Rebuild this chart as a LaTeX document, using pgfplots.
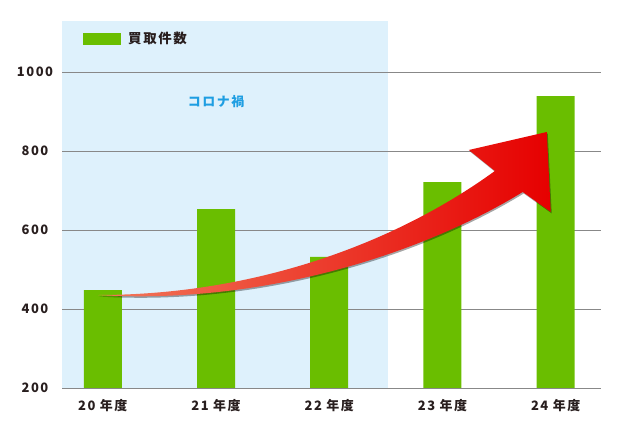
\documentclass[border=0pt]{standalone}
\usepackage{fontspec}
\setmainfont{Noto Sans CJK JP}[LetterSpace=12]
\usepackage{pgfplots}
\pgfplotsset{compat=1.18}
\definecolor{barg}{RGB}{106,190,0}
\definecolor{bgblue}{RGB}{222,241,252}
\definecolor{txtblue}{RGB}{30,158,226}
\definecolor{gridgray}{RGB}{136,136,136}
\definecolor{lab}{RGB}{40,30,30}
\definecolor{arrL}{RGB}{242,120,90}
\definecolor{arrR}{RGB}{230,0,0}
\begin{document}
\begin{tikzpicture}
\begin{axis}[
  set layers,
  scale only axis,
  width=539bp, height=367bp,
  at={(0,0)}, anchor=south west,
  xmin=-0.36, xmax=4.4,
  ymin=200, ymax=1129,
  ytick={200,400,600,800,1000},
  xtick={0,1,2,3,4},
  xticklabels={20 年度,21 年度,22 年度,23 年度,24 年度},
  ymajorgrids,
  grid style={gridgray, line width=0.9pt},
  axis line style={draw=none},
  major tick length=0pt,
  tick label style={font=\bfseries\fontsize{13}{15}\selectfont, text=lab},
  /pgf/number format/assume math mode=true,
  /pgf/number format/1000 sep={},
  yticklabel style={anchor=center, xshift=-27bp},
  xticklabel style={anchor=center, yshift=-18bp},
  legend style={at={(axis description cs:0.039,0.975)}, anchor=north west,
    draw=none, fill=none, inner sep=0pt,
    font=\bfseries\fontsize{13.5}{15}\selectfont, text=lab},
  legend image code/.code={\fill[#1] (0bp,-6bp) rectangle (38bp,6bp);},
]
\begin{pgfonlayer}{axis background}
\fill[bgblue] (axis cs:-0.36,200) rectangle (axis cs:2.52,1129);
\end{pgfonlayer}
\addplot[ybar, bar width=38bp, fill=barg, draw=none] coordinates {
  (0,448) (1,653) (2,532) (3,721) (4,939)
};
\addlegendentry{\hspace{5bp}買取件数}
\node[text=txtblue, font=\bfseries\fontsize{13}{15}\selectfont] at (axis cs:1,925) {コロナ禍};
% arrow shadow
\fill[black, opacity=0.35, xshift=1bp, yshift=-1.5bp]
  (axis cs:-0.044,435.4) .. controls (axis cs:1.392,435.4) and (axis cs:2.626,574.7) .. (axis cs:3.463,749.4)
  -- (axis cs:3.233,802.5) -- (axis cs:3.921,848) -- (axis cs:3.956,645.6) -- (axis cs:3.709,696.2)
  .. controls (axis cs:2.802,536.7) and (axis cs:1.392,410.1) .. cycle;
\shade[left color=arrL, right color=arrR]
  (axis cs:-0.044,435.4) .. controls (axis cs:1.392,435.4) and (axis cs:2.626,574.7) .. (axis cs:3.463,749.4)
  -- (axis cs:3.233,802.5) -- (axis cs:3.921,848) -- (axis cs:3.956,645.6) -- (axis cs:3.709,696.2)
  .. controls (axis cs:2.802,536.7) and (axis cs:1.392,410.1) .. cycle;
\end{axis}
\pgfresetboundingbox
\path (-62bp,-33bp) rectangle (560bp,388bp);
\end{tikzpicture}
\end{document}
